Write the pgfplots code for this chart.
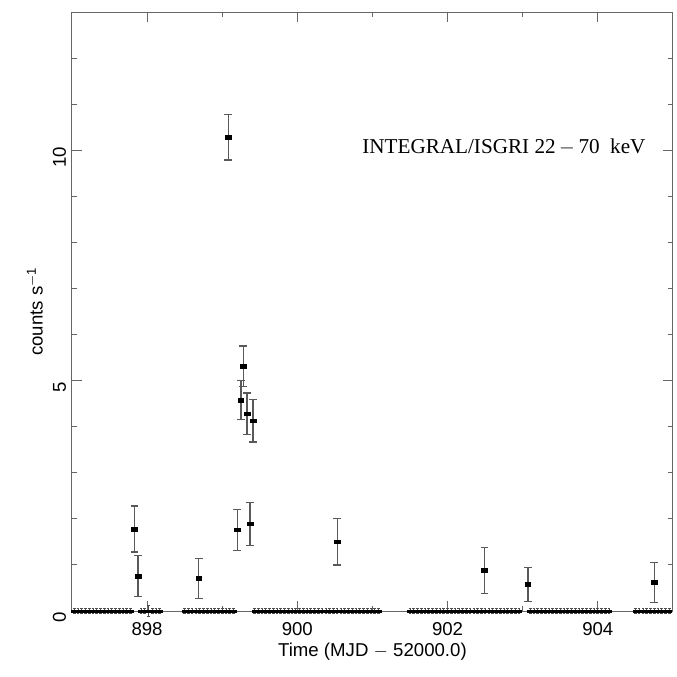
\documentclass[border=0pt]{standalone}
\usepackage{fontspec}
\setmainfont{Liberation Sans}
\newfontfamily\serifrm{Liberation Serif}
\usepackage{pgfplots}
\pgfplotsset{compat=1.18}
\usetikzlibrary{calc}

\begin{document}
\begin{tikzpicture}
\begin{axis}[
    scale only axis,
    width=355.1pt, height=353.9pt,
    xmin=897, xmax=905, ymin=0, ymax=13,
    xtick={898,900,902,904},
    minor xtick={897,899,901,903,905},
    ytick={0,5,10},
    minor ytick={1,2,3,4,6,7,8,9,11,12},
    tick align=inside,
    major tick length=6pt, minor tick length=3pt,
    axis line style={black!60, line width=0.6pt},
    every tick/.style={black!60, line width=0.6pt},
    tick label style={font=\fontsize{11}{13}\selectfont},
    /pgf/number format/assume math mode=true,
    /pgf/number format/1000 sep={},
    xticklabel style={yshift=-3pt},
    yticklabel style={rotate=90, anchor=south, xshift=-4pt},
    xlabel={Time (MJD $-$ 52000.0)},
    ylabel={counts s\textsuperscript{$-$1}},
    label style={font=\fontsize{11}{13}\selectfont},
    xlabel style={yshift=2pt},
    ylabel style={yshift=-1pt},
    clip=false,
]
% zero-rate bins
\addplot[only marks, mark=square*, mark size=0.8pt, black,
    mark options={xscale=1.8, yscale=0.8},
    error bars/.cd, y dir=both, y explicit,
    error bar style={black!70, line width=0.4pt},
    error mark options={rotate=90, mark size=0.8pt, black!70}]
coordinates {
(897.03,0) +- (0,0.06) (897.08,0) +- (0,0.06) (897.13,0) +- (0,0.06) (897.18,0) +- (0,0.06)
(897.23,0) +- (0,0.06) (897.28,0) +- (0,0.06) (897.33,0) +- (0,0.06) (897.38,0) +- (0,0.06)
(897.43,0) +- (0,0.06) (897.48,0) +- (0,0.06) (897.53,0) +- (0,0.06) (897.58,0) +- (0,0.06)
(897.63,0) +- (0,0.06) (897.68,0) +- (0,0.06) (897.73,0) +- (0,0.06) (897.78,0) +- (0,0.06)
(897.92,0) +- (0,0.06) (897.97,0) +- (0,0.06) (898.02,0) +- (0,0.12) (898.07,0) +- (0,0.06)
(898.12,0) +- (0,0.06) (898.17,0) +- (0,0.06)
(898.50,0) +- (0,0.06) (898.55,0) +- (0,0.06) (898.60,0) +- (0,0.06) (898.65,0) +- (0,0.06)
(898.70,0) +- (0,0.06) (898.75,0) +- (0,0.06) (898.80,0) +- (0,0.06) (898.85,0) +- (0,0.06)
(898.90,0) +- (0,0.06) (898.95,0) +- (0,0.06) (899.00,0) +- (0,0.06) (899.05,0) +- (0,0.06)
(899.10,0) +- (0,0.06) (899.15,0) +- (0,0.06)
(899.43,0) +- (0,0.06) (899.48,0) +- (0,0.06) (899.53,0) +- (0,0.06) (899.58,0) +- (0,0.06)
(899.63,0) +- (0,0.06) (899.68,0) +- (0,0.06) (899.73,0) +- (0,0.06) (899.78,0) +- (0,0.06)
(899.83,0) +- (0,0.06) (899.88,0) +- (0,0.06) (899.93,0) +- (0,0.06) (899.98,0) +- (0,0.06)
(900.03,0) +- (0,0.06) (900.08,0) +- (0,0.06) (900.13,0) +- (0,0.06) (900.18,0) +- (0,0.06)
(900.23,0) +- (0,0.06) (900.28,0) +- (0,0.06) (900.33,0) +- (0,0.06) (900.38,0) +- (0,0.06)
(900.43,0) +- (0,0.06) (900.48,0) +- (0,0.06) (900.53,0) +- (0,0.06) (900.58,0) +- (0,0.06)
(900.63,0) +- (0,0.06) (900.68,0) +- (0,0.06) (900.73,0) +- (0,0.06) (900.78,0) +- (0,0.06)
(900.83,0) +- (0,0.06) (900.88,0) +- (0,0.06) (900.93,0) +- (0,0.06) (900.98,0) +- (0,0.06)
(901.03,0) +- (0,0.06) (901.08,0) +- (0,0.06)
(901.50,0) +- (0,0.06) (901.55,0) +- (0,0.06) (901.60,0) +- (0,0.06) (901.65,0) +- (0,0.06)
(901.70,0) +- (0,0.06) (901.75,0) +- (0,0.06) (901.80,0) +- (0,0.06) (901.85,0) +- (0,0.06)
(901.90,0) +- (0,0.06) (901.95,0) +- (0,0.06) (902.00,0) +- (0,0.06) (902.05,0) +- (0,0.06)
(902.10,0) +- (0,0.06) (902.15,0) +- (0,0.06) (902.20,0) +- (0,0.06) (902.25,0) +- (0,0.06)
(902.30,0) +- (0,0.06) (902.35,0) +- (0,0.06) (902.40,0) +- (0,0.06) (902.45,0) +- (0,0.06)
(902.50,0) +- (0,0.06) (902.55,0) +- (0,0.06) (902.60,0) +- (0,0.06) (902.65,0) +- (0,0.06)
(902.70,0) +- (0,0.06) (902.75,0) +- (0,0.06) (902.80,0) +- (0,0.06) (902.85,0) +- (0,0.06)
(902.90,0) +- (0,0.06) (902.95,0) +- (0,0.06) (903.10,0) +- (0,0.06) (903.15,0) +- (0,0.06)
(903.20,0) +- (0,0.06) (903.25,0) +- (0,0.06) (903.30,0) +- (0,0.06) (903.35,0) +- (0,0.06)
(903.40,0) +- (0,0.06) (903.45,0) +- (0,0.06) (903.50,0) +- (0,0.06) (903.55,0) +- (0,0.06)
(903.60,0) +- (0,0.06) (903.65,0) +- (0,0.06) (903.70,0) +- (0,0.06) (903.75,0) +- (0,0.06)
(903.80,0) +- (0,0.06) (903.85,0) +- (0,0.06) (903.90,0) +- (0,0.06) (903.95,0) +- (0,0.06)
(904.00,0) +- (0,0.06) (904.05,0) +- (0,0.06) (904.10,0) +- (0,0.06) (904.15,0) +- (0,0.06)
(904.50,0) +- (0,0.06) (904.55,0) +- (0,0.06) (904.60,0) +- (0,0.06) (904.65,0) +- (0,0.06)
(904.70,0) +- (0,0.06) (904.75,0) +- (0,0.06) (904.80,0) +- (0,0.06) (904.85,0) +- (0,0.06)
(904.90,0) +- (0,0.06) (904.95,0) +- (0,0.06)
};
% detections
\addplot[only marks, mark=square*, mark size=1.3pt, black,
    mark options={xscale=1.3, yscale=0.85},
    error bars/.cd, y dir=both, y explicit,
    error bar style={black!65, line width=0.7pt},
    error mark options={rotate=90, mark size=2.2pt, black!65, line width=0.7pt}]
coordinates {
(897.83,1.78)  +- (0,0.50)
(897.88,0.76)  +- (0,0.45)
(898.69,0.71)  +- (0,0.43)
(899.08,10.28) +- (0,0.49)
(899.20,1.76)  +- (0,0.44)
(899.25,4.58)  +- (0,0.43)
(899.28,5.31)  +- (0,0.44)
(899.33,4.28)  +- (0,0.45)
(899.37,1.89)  +- (0,0.47)
(899.41,4.13)  +- (0,0.46)
(900.53,1.50)  +- (0,0.50)
(902.49,0.88)  +- (0,0.50)
(903.07,0.58)  +- (0,0.37)
(904.75,0.62)  +- (0,0.43)
};
\node[font=\serifrm\fontsize{12.5}{15}\selectfont, inner sep=0pt]
    at (axis cs:902.75,10.06) {INTEGRAL/ISGRI 22\,$-$\,70\ \ keV};
\end{axis}
\pgfresetboundingbox
\path[use as bounding box] ($(current axis.south west)+(-42.5pt,-38.4pt)$)
    rectangle ($(current axis.north east)+(2.4pt,7.1pt)$);
\end{tikzpicture}
\end{document}
